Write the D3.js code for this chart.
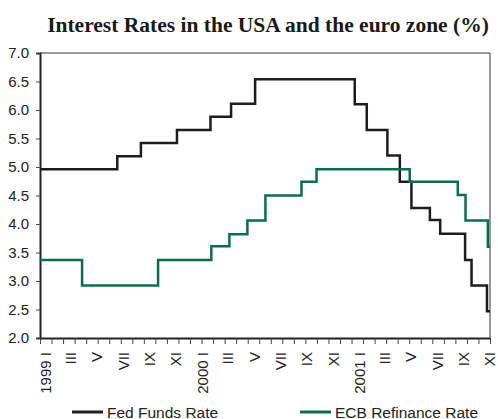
<!DOCTYPE html>
<html>
<head>
<meta charset="utf-8">
<title>Interest Rates</title>
<script src="https://cdn.jsdelivr.net/npm/d3@7"></script>
<style>
	body { margin: 0; background: #fff; }
	svg { display: block; font-family: "Liberation Sans", Arial, sans-serif; }
</style>
</head>
<body>
<script>
	// data (dates = day the rate changed)
	let fedDates  = ['1999-01-01','1999-06-30','1999-08-24','1999-11-16','2000-02-02','2000-03-21','2000-05-16',
	                 '2001-01-03','2001-01-31','2001-03-20','2001-04-18','2001-05-15','2001-06-27','2001-07-21',
	                 '2001-09-17','2001-10-02','2001-11-07'];
	let fedValues = [4.96, 5.19, 5.42, 5.65, 5.88, 6.11, 6.54, 6.10, 5.65, 5.20, 4.74, 4.28, 4.07, 3.83, 3.37, 2.92, 2.47];

	let ecbDates  = ['1999-01-01','1999-04-09','1999-10-03','2000-02-04','2000-03-17','2000-04-28','2000-06-09',
	                 '2000-09-01','2000-10-06','2001-05-11','2001-08-31','2001-09-18','2001-11-09'];
	let ecbValues = [3.37, 2.92, 3.37, 3.61, 3.82, 4.06, 4.50, 4.74, 4.96, 4.74, 4.51, 4.06, 3.60];

	let startDate = '1999-01-01';
	let endDate   = '2001-11-14';
	let yTicks = [2.0, 2.5, 3.0, 3.5, 4.0, 4.5, 5.0, 5.5, 6.0, 6.5, 7.0];
	let romans = ['I','II','III','IV','V','VI','VII','VIII','IX','X','XI','XII'];
	let seriesNames = ['Fed Funds Rate', 'ECB Refinance Rate'];
	let colors = ['#1e1c1d', '#07704a'];

	let W = 498, H = 419;
	let m = { left: 40, right: 8, top: 53, bottom: 81 };
	let parse = d3.timeParse('%Y-%m-%d');
	let t0 = parse(startDate), t1 = parse(endDate);

	let svg = d3.select('body').append('svg').attr('width', W).attr('height', H);

	let x = d3.scaleTime().domain([t0, t1]).range([m.left, W - m.right]);
	let y = d3.scaleLinear().domain([2, 7]).range([H - m.bottom, m.top]);

	// title
	svg.append('text').text('Interest Rates in the USA and the euro zone (%)')
		.attr('x', 268).attr('y', 32)
		.attr('text-anchor', 'middle')
		.style('font-family', '"Liberation Serif", "Times New Roman", serif')
		.style('font-weight', 'bold')
		.style('font-size', '21.5px')
		.style('fill', '#1a1a1a');

	// frame top / right
	svg.append('path')
		.attr('d', 'M' + x.range()[0] + ',' + y(7) + 'H' + x.range()[1] + 'V' + y(2))
		.attr('fill', 'none').attr('stroke', '#333').attr('stroke-width', 1);

	// y axis
	let yAxis = svg.append('g')
		.attr('transform', 'translate(' + m.left + ',0)')
		.call(d3.axisLeft(y).tickValues(yTicks).tickFormat(d3.format('.1f')).tickSize(4).tickPadding(7));
	yAxis.select('.domain').attr('stroke', '#222').attr('stroke-width', 2);
	yAxis.selectAll('line').attr('stroke', '#444');
	yAxis.selectAll('text').style('font-size', '15px').style('fill', '#222')
		.style('font-family', '"Liberation Sans", Arial, sans-serif');

	// x axis: ticks spaced evenly, 39 intervals
	let tickDates = d3.range(40).map(function(i) { return new Date(+t0 + i * (t1 - t0) / 39); });
	let xAxis = svg.append('g')
		.attr('transform', 'translate(0,' + y(2) + ')')
		.call(d3.axisBottom(x).tickValues(tickDates).tickFormat('').tickSize(6).tickSizeOuter(0));
	xAxis.select('.domain').attr('stroke', '#222').attr('stroke-width', 2);
	xAxis.selectAll('line').attr('stroke', '#444');

	// month labels every second month
	let months = d3.timeMonth.range(t0, t1).filter(function(d) { return d.getMonth() % 2 === 0; });
	svg.append('g').selectAll('text').data(months).enter().append('text')
		.attr('transform', function(d) { return 'translate(' + (x(d) + 5.5) + ',' + (y(2) + 14) + ') rotate(-90)'; })
		.attr('dy', '0.36em')
		.attr('text-anchor', 'end')
		.style('font-size', '15px')
		.style('fill', '#222')
		.text(function(d) {
			let r = romans[d.getMonth()];
			return d.getMonth() === 0 ? d.getFullYear() + ' ' + r : r;
		});

	// step lines
	let line = d3.line()
		.x(function(d) { return x(d.date); })
		.y(function(d) { return y(d.value); })
		.curve(d3.curveStepAfter);

	function toPoints(dates, values) {
		let pts = dates.map(function(d, i) { return { date: parse(d), value: values[i] }; });
		pts.push({ date: t1, value: values[values.length - 1] });
		return pts;
	}

	let series = [toPoints(fedDates, fedValues), toPoints(ecbDates, ecbValues)];
	series.forEach(function(s, i) {
		svg.append('path').datum(s)
			.attr('d', line)
			.attr('fill', 'none')
			.attr('stroke', colors[i])
			.attr('stroke-width', 2.5);
	});

	// legend
	let legendX = [72, 300];
	seriesNames.forEach(function(name, i) {
		let g = svg.append('g').attr('transform', 'translate(' + legendX[i] + ',412)');
		g.append('line').attr('x1', 0).attr('x2', 31).attr('y1', 0).attr('y2', 0)
			.attr('stroke', colors[i]).attr('stroke-width', 3);
		g.append('text').attr('x', 35).attr('y', 5.5)
			.style('font-size', '15.5px').style('fill', '#222')
			.text(name);
	});
</script>
</body>
</html>
